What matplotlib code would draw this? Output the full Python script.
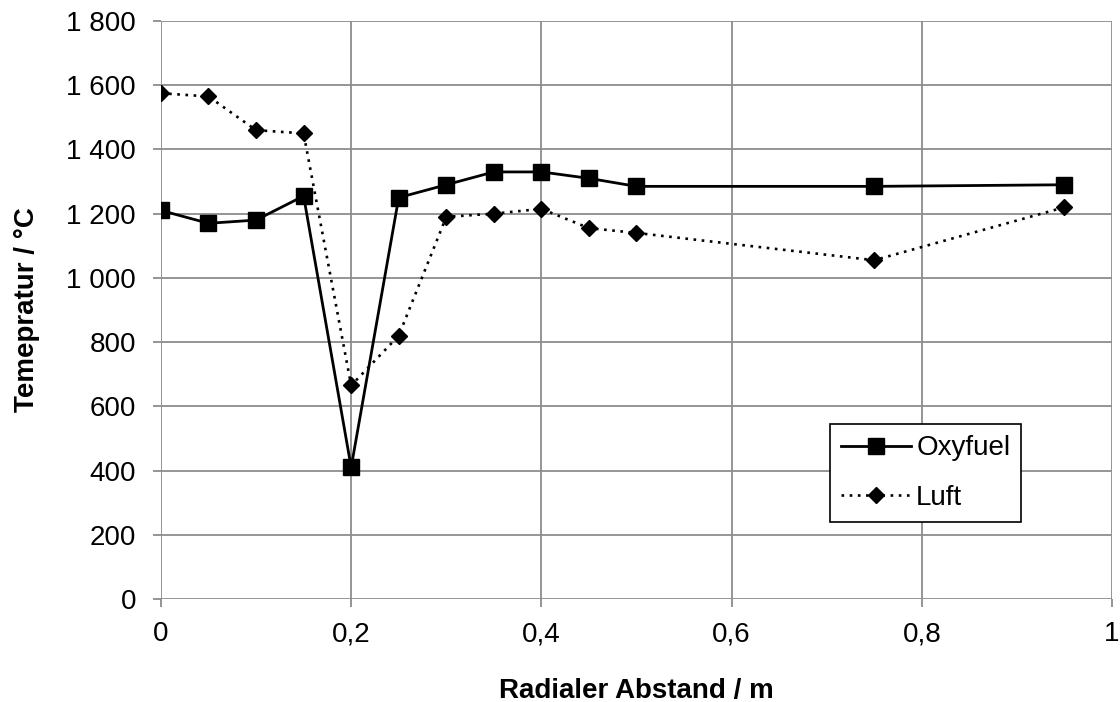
import matplotlib.pyplot as plt
from matplotlib.ticker import FuncFormatter

plt.rcParams['font.family'] = ['Liberation Sans', 'DejaVu Sans']

# Radial positions (m)
x_vals = [0, 0.05, 0.1, 0.15, 0.2, 0.25, 0.3, 0.35, 0.4, 0.45, 0.5, 0.75, 0.95]

# Temperatures (°C)
oxyfuel = [1210, 1170, 1180, 1255, 410, 1250, 1290, 1330, 1330, 1310, 1285, 1285, 1290]
luft = [1575, 1565, 1460, 1450, 665, 820, 1190, 1200, 1215, 1155, 1140, 1055, 1220]

x_ticks = [0, 0.2, 0.4, 0.6, 0.8, 1.0]
y_ticks = list(range(0, 1801, 200))

fig = plt.figure(figsize=(11.2, 7.02), dpi=100)
ax = fig.add_axes([0.1437, 0.1467, 0.8492, 0.8234])

ax.plot(x_vals, oxyfuel, color='black', linewidth=2, marker='s', markersize=11,
        label='Oxyfuel')
ax.plot(x_vals, luft, color='black', linewidth=1.9, linestyle=(0, (1, 2.1)),
        marker='D', markersize=8.5, label='Luft')

ax.set_xlim(0, 1)
ax.set_ylim(0, 1800)
ax.set_xticks(x_ticks)
ax.set_yticks(y_ticks)


def fmt_x(v, pos):
    if abs(v - round(v)) < 1e-9:
        return str(int(round(v)))
    return ('%.1f' % v).replace('.', ',')


def fmt_y(v, pos):
    return '{:,}'.format(int(v)).replace(',', ' ')


ax.xaxis.set_major_formatter(FuncFormatter(fmt_x))
ax.yaxis.set_major_formatter(FuncFormatter(fmt_y))

ax.grid(True, color='#8c8c8c', linewidth=1.3)
ax.set_axisbelow(True)
for s in ax.spines.values():
    s.set_visible(False)
ax.tick_params(axis='both', colors='#8c8c8c', length=6, width=1.3,
               labelcolor='black', labelsize=20)
ax.tick_params(axis='y', pad=12)
ax.tick_params(axis='x', pad=10)

ax.set_xlabel('Radialer Abstand / m', fontsize=20, fontweight='bold', labelpad=22)
ax.set_ylabel('Temepratur / °C', fontsize=20, fontweight='bold', labelpad=19)

leg = ax.legend(loc='lower left', bbox_to_anchor=(0.7035, 0.133), fontsize=20,
                frameon=True, fancybox=False, edgecolor='black', framealpha=1,
                handlelength=2.5, handletextpad=0.2, borderpad=0.4,
                labelspacing=0.85, borderaxespad=0)
leg.get_frame().set_linewidth(1.2)

fig.savefig('out.png', dpi=100)
